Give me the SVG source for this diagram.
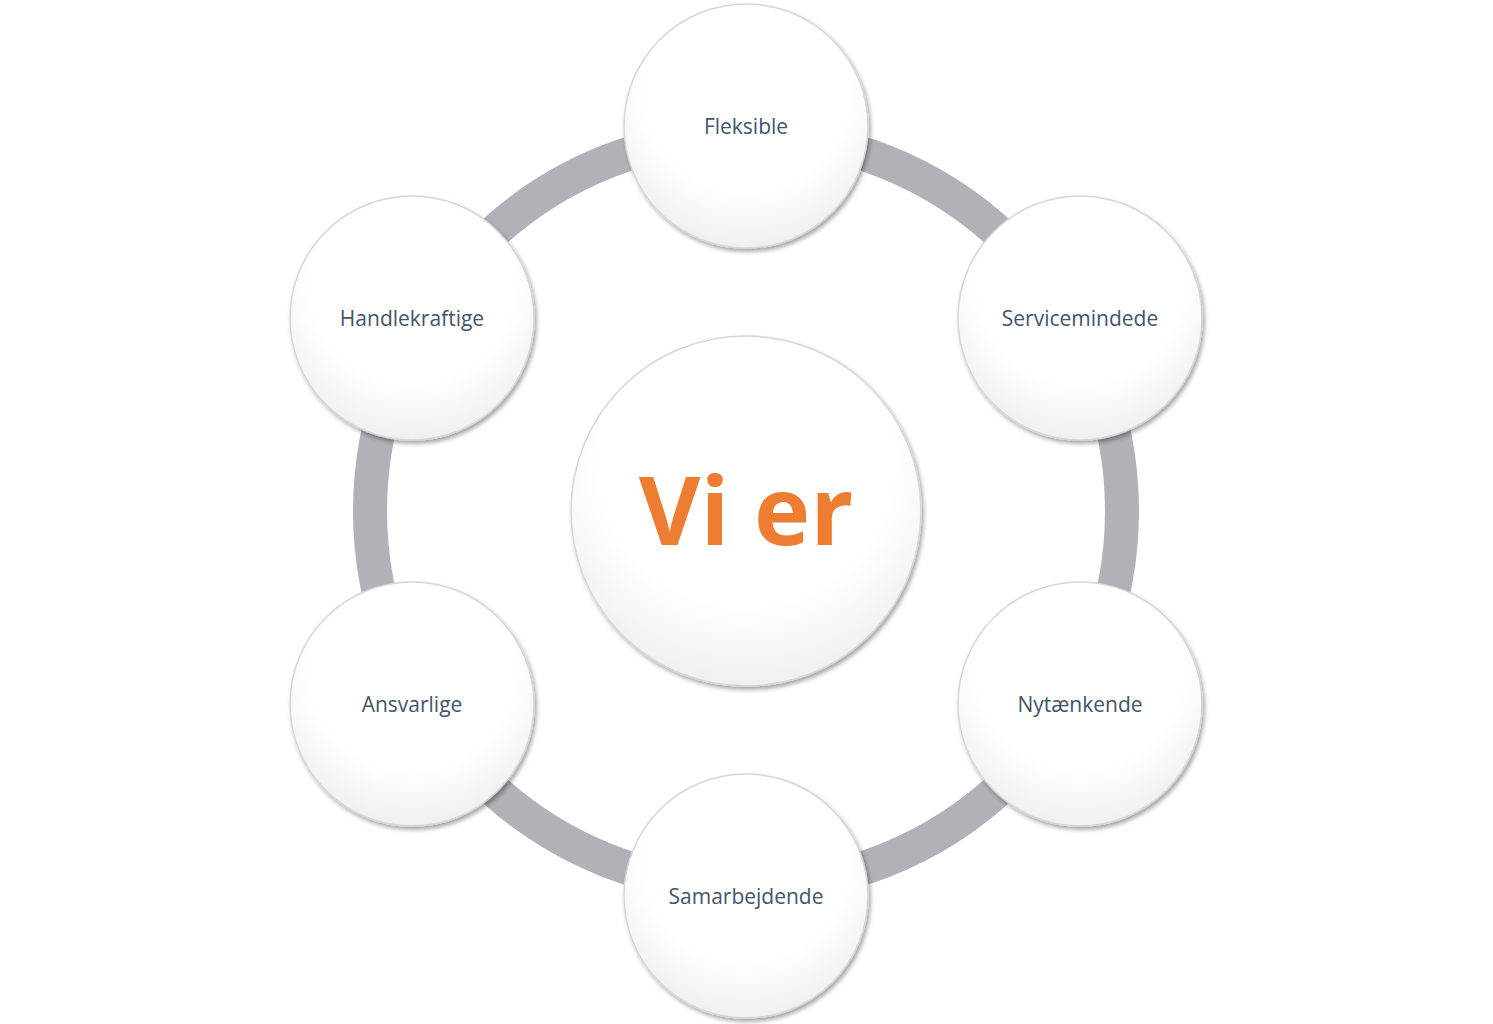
<svg xmlns="http://www.w3.org/2000/svg" width="1493" height="1024" viewBox="0 0 1493 1024">
<defs>
<radialGradient id="g" cx="0.5" cy="0.35" r="0.7">
<stop offset="0.6" stop-color="#ffffff"/><stop offset="1" stop-color="#ececec"/>
</radialGradient>
<filter id="sh" x="-20%" y="-20%" width="140%" height="140%"><feDropShadow dx="2" dy="3" stdDeviation="2" flood-color="#000" flood-opacity="0.35"/></filter>
</defs>
<style>
.n{fill:url(#g);stroke:#d6d6d6;stroke-width:1.5;filter:url(#sh)}
.t{font-family:"Open Sans","Liberation Sans",sans-serif;font-size:21px;fill:#44546a;text-anchor:middle;dominant-baseline:central}
</style>
<rect width="1493" height="1024" fill="#fff"/>
<g id="connectors"><circle cx="746" cy="511" r="376" fill="none" stroke="#b1b2b7" stroke-width="34"/></g>
<g id="center"><circle class="n" cx="746" cy="511" r="175"/><text x="746" y="508" font-family="'Open Sans','Liberation Sans',sans-serif" font-weight="bold" font-size="95" fill="#ed7d31" text-anchor="middle" dominant-baseline="central">Vi er</text></g>
<g id="n1"><circle class="n" cx="746" cy="126" r="122"/><text class="t" x="746" y="126">Fleksible</text></g>
<g id="n2"><circle class="n" cx="1080" cy="318" r="122"/><text class="t" x="1080" y="318">Servicemindede</text></g>
<g id="n3"><circle class="n" cx="1080" cy="704" r="122"/><text class="t" x="1080" y="704">Nytænkende</text></g>
<g id="n4"><circle class="n" cx="746" cy="896" r="122"/><text class="t" x="746" y="896">Samarbejdende</text></g>
<g id="n5"><circle class="n" cx="412" cy="704" r="122"/><text class="t" x="412" y="704">Ansvarlige</text></g>
<g id="n6"><circle class="n" cx="412" cy="318" r="122"/><text class="t" x="412" y="318">Handlekraftige</text></g>
</svg>
